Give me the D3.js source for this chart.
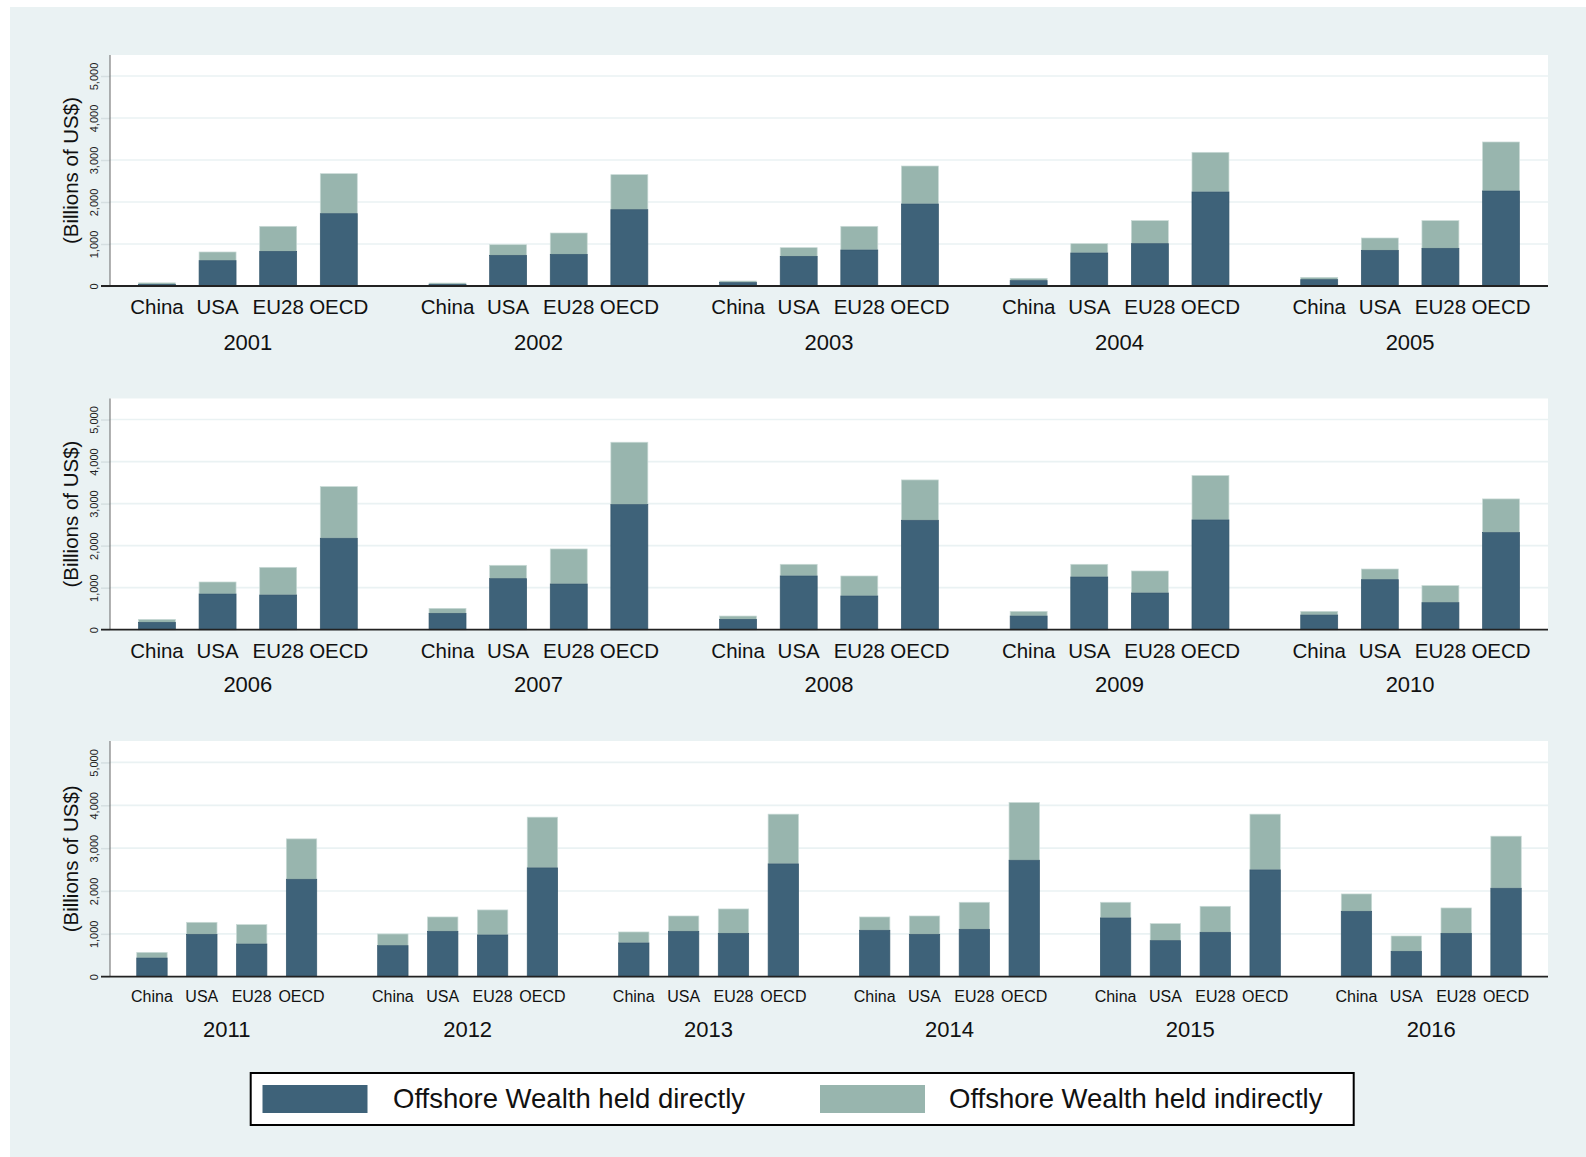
<!DOCTYPE html>
<html><head><meta charset="utf-8">
<script src="https://cdn.jsdelivr.net/npm/d3@7"></script>
<style>
body{margin:0;background:#fff}
svg{display:block;font-family:"Liberation Sans",Arial,Helvetica,sans-serif}
</style>
</head><body>
<svg id="c" width="1586" height="1157"></svg>
<script>
// ---------- data (billions of US$) ----------
const years = [2001,2002,2003,2004,2005,2006,2007,2008,2009,2010,2011,2012,2013,2014,2015,2016];
const regions = ["China","USA","EU28","OECD"];
const directChina   = [40,40,80,127,151,175,389,246,325,349,436,724,787,1083,1371,1526];
const indirectChina = [35,31,39,56,55,71,119,79,112,88,132,273,257,311,366,405];
const directUSA     = [603,730,706,786,849,849,1214,1278,1254,1190,989,1059,1059,989,841,592];
const indirectUSA   = [207,254,207,222,294,286,318,278,302,254,280,335,358,428,397,358];
const directEU28    = [825,754,857,1008,897,825,1087,802,873,643,763,974,1012,1106,1036,1012];
const indirectEU28  = [596,508,564,548,659,659,834,476,524,405,452,584,569,631,607,592];
const directOECD    = [1722,1817,1952,2238,2262,2175,2976,2603,2611,2310,2274,2539,2632,2718,2492,2064];
const indirectOECD  = [953,834,905,945,1167,1230,1484,960,1056,801,942,1184,1161,1347,1301,1215];
const yTicks = [0,1000,2000,3000,4000,5000];
const seriesNames = ["Offshore Wealth held directly","Offshore Wealth held indirectly"];
const yTitle = "(Billions of US$)";

// ---------- style ----------
const COL_DIRECT = "#3e6279", COL_INDIRECT = "#98b5ae";
const BG = "#eaf2f3", GRID = "#eaf2f3";

const directBy = {China:directChina, USA:directUSA, EU28:directEU28, OECD:directOECD};
const indirectBy = {China:indirectChina, USA:indirectUSA, EU28:indirectEU28, OECD:indirectOECD};

const svg = d3.select("#c");
svg.append("rect").attr("x",10).attr("y",7).attr("width",1576).attr("height",1150).attr("fill",BG);

const panels = [
  {from:0, to:5,  top:55,    base:286,   catY:314,    catSize:20.5, yearY:350,    pi:0.247,  po:0.098},
  {from:5, to:10, top:398.5, base:629.7, catY:658.3,  catSize:20.5, yearY:691.7,  pi:0.247,  po:0.098},
  {from:10,to:16, top:741,   base:976.7, catY:1001.7, catSize:16,   yearY:1037.3, pi:0.2528, po:0.111}
];
const X0 = 110, X1 = 1548;

panels.forEach(p => {
  const g = svg.append("g");
  const ys = years.slice(p.from, p.to);
  g.append("rect").attr("x",X0).attr("y",p.top).attr("width",X1-X0).attr("height",p.base-p.top).attr("fill","#fff");
  const y = d3.scaleLinear().domain([0,5500]).range([p.base,p.top]);
  const xg = d3.scaleBand().domain(ys).range([X0,X1]).paddingInner(p.pi).paddingOuter(p.po);
  const xc = d3.scaleBand().domain(regions).range([0,xg.bandwidth()]).paddingInner(0.39).paddingOuter(0);

  // grid
  g.selectAll(".grid").data(yTicks.filter(t=>t>0)).join("line")
    .attr("x1",X0).attr("x2",X1).attr("y1",d=>y(d)).attr("y2",d=>y(d))
    .attr("stroke",GRID).attr("stroke-width",1.7);

  // y axis
  const ax = g.append("g").attr("transform",`translate(${X0},0)`)
    .call(d3.axisLeft(y).tickValues(yTicks).tickSize(9).tickFormat(d3.format(",")));
  ax.select(".domain").remove();
  ax.selectAll(".tick line").attr("stroke","#d5dfe1").attr("stroke-width",1.5);
  ax.selectAll(".tick text").attr("font-size",11).attr("fill","#222")
    .attr("text-anchor","middle").attr("x",0).attr("dy",0)
    .attr("transform","translate(-16,0) rotate(-90)").attr("dy","0.35em");
  g.append("line").attr("x1",X0).attr("x2",X0).attr("y1",p.top).attr("y2",p.base)
    .attr("stroke","#666").attr("stroke-width",1);

  // axis title
  g.append("text").attr("transform",`translate(71,${(p.top+p.base)/2}) rotate(-90)`)
    .attr("text-anchor","middle").attr("dy","0.33em").attr("font-size",20.5).attr("fill","#111").text(yTitle);

  // bars
  ys.forEach(yr => {
    const i = years.indexOf(yr);
    const gg = g.append("g").attr("transform",`translate(${xg(yr)},0)`);
    regions.forEach(r => {
      const d = directBy[r][i], ind = indirectBy[r][i];
      gg.append("rect").attr("x",xc(r)).attr("width",xc.bandwidth())
        .attr("y",y(d+ind)).attr("height",y(d)-y(d+ind))
        .attr("fill",COL_INDIRECT).attr("stroke","#c9dad6").attr("stroke-width",0.7);
      gg.append("rect").attr("x",xc(r)).attr("width",xc.bandwidth())
        .attr("y",y(d)).attr("height",y(0)-y(d))
        .attr("fill",COL_DIRECT).attr("stroke","#36586d").attr("stroke-width",0.7);
      gg.append("text").attr("x",xc(r)+xc.bandwidth()/2).attr("y",p.catY)
        .attr("text-anchor","middle").attr("font-size",p.catSize).attr("fill","#111").text(r);
    });
    gg.append("text").attr("x",xg.bandwidth()/2).attr("y",p.yearY)
      .attr("text-anchor","middle").attr("font-size",22).attr("fill","#111").text(yr);
  });

  // baseline
  g.append("line").attr("x1",X0-9).attr("x2",X1).attr("y1",p.base).attr("y2",p.base)
    .attr("stroke","#222").attr("stroke-width",1.8);
});

// legend
const lg = svg.append("g");
lg.append("rect").attr("x",250.7).attr("y",1073).attr("width",1103).attr("height",52)
  .attr("fill","#fff").attr("stroke","#000").attr("stroke-width",2);
const legItems = [
  {name:seriesNames[0], col:COL_DIRECT, sx:262.5, tx:393},
  {name:seriesNames[1], col:COL_INDIRECT, sx:820, tx:949}
];
legItems.forEach(it => {
  lg.append("rect").attr("x",it.sx).attr("y",1085).attr("width",105).attr("height",28).attr("fill",it.col);
  lg.append("text").attr("x",it.tx).attr("y",1108.3).attr("font-size",27.5).attr("fill","#111").text(it.name);
});
</script>
</body></html>
